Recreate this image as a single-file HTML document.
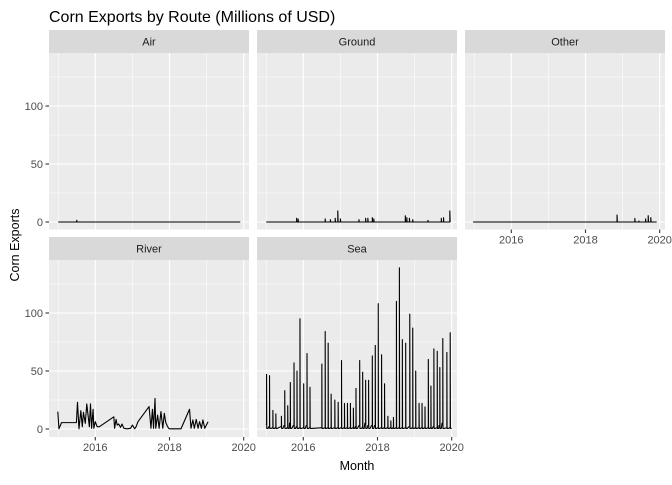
<!DOCTYPE html>
<html><head><meta charset="utf-8"><style>
body{margin:0;background:#fff;}
svg text{font-family:"Liberation Sans",Arial,sans-serif;}
</style></head><body>
<svg id="chart" width="672" height="480" xmlns="http://www.w3.org/2000/svg">
<rect width="672" height="480" fill="#fff"/>
<text x="49" y="22" font-size="16" fill="#000">Corn Exports by Route (Millions of USD)</text>
<text transform="translate(19,245) rotate(-90)" text-anchor="middle" font-size="12.5" fill="#000">Corn Exports</text>
<text x="357" y="470" text-anchor="middle" font-size="12.5" fill="#000">Month</text>
<g id="panels"></g>
</svg>
<script>
// Air
const airDates = [2015.0, 2015.48, 2015.5, 2015.53, 2019.9];
const airValues = [0, 0, 1.5, 0, 0];
// Ground
const groundDates = [2015.0, 2015.82, 2015.86, 2016.59, 2016.73, 2016.86, 2016.93, 2017.0, 2017.5, 2017.68, 2017.74, 2017.86, 2017.9, 2018.75, 2018.79, 2018.86, 2018.95, 2019.36, 2019.72, 2019.78, 2019.95];
const groundValues = [0, 3.2, 2.6, 2.6, 2, 3.2, 9.5, 2.6, 2, 3.2, 3.2, 3.7, 2.6, 5.4, 3.7, 3.2, 2, 1.4, 3.2, 3.7, 9.5];
// Other
const otherDates = [2014.97, 2018.85, 2019.33, 2019.44, 2019.62, 2019.69, 2019.76, 2019.91];
const otherValues = [0, 6, 3.1, 0.8, 2.6, 5.5, 3.7, 0];
// River
const riverDates = [2014.99, 2015.02, 2015.09, 2015.49, 2015.52, 2015.56, 2015.61, 2015.65, 2015.68, 2015.73, 2015.77, 2015.84, 2015.87, 2015.9, 2015.94, 2015.96, 2016.0, 2016.05, 2016.11, 2016.5, 2016.52, 2016.56, 2016.59, 2016.63, 2016.68, 2016.72, 2016.77, 2016.86, 2016.95, 2017.0, 2017.06, 2017.1, 2017.15, 2017.45, 2017.5, 2017.54, 2017.57, 2017.61, 2017.63, 2017.68, 2017.72, 2017.77, 2017.82, 2017.86, 2017.9, 2017.95, 2017.99, 2018.02, 2018.31, 2018.54, 2018.58, 2018.63, 2018.67, 2018.72, 2018.77, 2018.81, 2018.86, 2018.9, 2018.95, 2019.04];
const riverValues = [15, 0.2, 5.5, 5.5, 23, 0.2, 15.8, 2, 14.4, 4.9, 21.6, 2, 21.6, 0.6, 17, 0.6, 6.3, 2, 2, 10.5, 0.6, 8.3, 3.4, 4.3, 1.4, 4.3, 0.6, 0.2, 0.6, 3.4, 0.2, 2, 6.3, 19.3, 0.6, 17, 0.6, 26.4, 0.6, 12, 0.6, 15, 0.6, 13.5, 5.5, 2, 0.2, 0.2, 0.2, 17, 0.6, 7.8, 0.6, 8.3, 0.6, 6.3, 0.6, 7.8, 0.6, 6.3];
// Sea spikes
const seaDates = [2015.01, 2015.09, 2015.18, 2015.26, 2015.41, 2015.5, 2015.58, 2015.65, 2015.75, 2015.83, 2015.91, 2016.01, 2016.1, 2016.18, 2016.5, 2016.59, 2016.67, 2016.75, 2016.85, 2016.94, 2017.03, 2017.11, 2017.19, 2017.27, 2017.35, 2017.42, 2017.52, 2017.6, 2017.68, 2017.76, 2017.86, 2017.94, 2018.02, 2018.11, 2018.19, 2018.28, 2018.36, 2018.43, 2018.51, 2018.59, 2018.67, 2018.76, 2018.87, 2018.95, 2019.03, 2019.12, 2019.2, 2019.28, 2019.37, 2019.44, 2019.52, 2019.61, 2019.68, 2019.76, 2019.87, 2019.96];
const seaValues = [47, 46, 16, 13, 11, 33, 20, 40, 57, 50, 95, 39, 65, 36, 56, 84, 74, 30, 25, 23, 59, 22, 22, 22, 18, 35, 59, 49, 42, 42, 63, 72, 108, 64, 39, 11, 7, 10, 110, 139, 77, 74, 99, 87, 50, 22, 22, 19, 60, 37, 69, 67, 53, 78, 66, 83];
const seaBase = [4, 2, 1, 1, 2, 3, 1, 5, 3, 2, 1, 1, 3, 1, 1, 1, 1, 1, 1, 1, 1, 1, 1, 1, 1, 2, 3, 1, 5, 3, 3, 3, 1, 1, 1, 1, 1, 1, 1, 1, 1, 1, 2, 1, 1, 1, 1, 1, 1, 1, 2, 1, 3, 5, 1, 1];
const xTicks = [2016, 2018, 2020];
const yTicks = [0, 50, 100];

const NS = "http://www.w3.org/2000/svg";
const g = document.getElementById('panels');
const PW = 200, X0 = 2014.752, X1 = 2020.143;
const rowY = [{strip: 30, top: 53, bottom: 229.5, zero: 222}, {strip: 237, top: 260, bottom: 437, zero: 429}];
const colX = [49, 257, 465];
function mk(tag, attrs, parent) {
  const e = document.createElementNS(NS, tag);
  for (const k in attrs) e.setAttribute(k, attrs[k]);
  (parent || g).appendChild(e);
  return e;
}
function sx(c, v) { return colX[c] + (v - X0) / (X1 - X0) * PW; }
function sy(r, v) { return rowY[r].zero - v * 1.16; }

const panels = [
  {name: 'Air', c: 0, r: 0, xaxis: false, yaxis: true},
  {name: 'Ground', c: 1, r: 0, xaxis: false, yaxis: false},
  {name: 'Other', c: 2, r: 0, xaxis: true, yaxis: false},
  {name: 'River', c: 0, r: 1, xaxis: true, yaxis: true},
  {name: 'Sea', c: 1, r: 1, xaxis: true, yaxis: false}
];
const series = {
  Air: [airDates, airValues], Ground: [groundDates, groundValues],
  Other: [otherDates, otherValues], River: [riverDates, riverValues]
};

panels.forEach(p => {
  const R = rowY[p.r], L = colX[p.c];
  const key = p.name.toLowerCase();
  const st = mk('rect', {x: L, y: R.strip, width: PW, height: R.top - R.strip, fill: '#d9d9d9'});
  
  
  const stt = mk('text', {x: L + PW / 2, y: R.strip + 15.5, 'text-anchor': 'middle', 'font-size': '11', fill: '#1a1a1a'});
  stt.textContent = p.name;
  
  
  const bg = mk('rect', {x: L, y: R.top, width: PW, height: R.bottom - R.top, fill: '#ebebeb'});
  
  
  // minor grid
  [2015, 2017, 2019].forEach(v => {
    const l = mk('line', {x1: sx(p.c, v), x2: sx(p.c, v), y1: R.top, y2: R.bottom, stroke: '#fff', 'stroke-width': 0.55});
    
    
  });
  [25, 75, 125].forEach(v => {
    const l = mk('line', {x1: L, x2: L + PW, y1: sy(p.r, v), y2: sy(p.r, v), stroke: '#fff', 'stroke-width': 0.55});
    
    
  });
  xTicks.forEach(v => {
    const l = mk('line', {x1: sx(p.c, v), x2: sx(p.c, v), y1: R.top, y2: R.bottom, stroke: '#fff', 'stroke-width': 1.1});
    
    
    if (p.xaxis) {
      const t = mk('line', {x1: sx(p.c, v), x2: sx(p.c, v), y1: R.bottom, y2: R.bottom + 3.5, stroke: '#333', 'stroke-width': 1.1});
      
      
      const tl = mk('text', {x: sx(p.c, v), y: R.bottom + 14, 'text-anchor': 'middle', 'font-size': '11', fill: '#4d4d4d'});
      tl.textContent = v;
      
      
    }
  });
  yTicks.forEach(v => {
    const l = mk('line', {x1: L, x2: L + PW, y1: sy(p.r, v), y2: sy(p.r, v), stroke: '#fff', 'stroke-width': 1.1});
    
    
    if (p.yaxis) {
      const t = mk('line', {x1: L - 3.5, x2: L, y1: sy(p.r, v), y2: sy(p.r, v), stroke: '#333', 'stroke-width': 1.1});
      
      
      const tl = mk('text', {x: L - 6, y: sy(p.r, v) + 4, 'text-anchor': 'end', 'font-size': '11', fill: '#4d4d4d'});
      tl.textContent = v;
      
      
    }
  });
  let d = '';
  if (p.name === 'Sea') {
    seaDates.forEach((dt, i) => {
      d += (i === 0 ? 'M' : 'L') + sx(p.c, dt - 0.02).toFixed(2) + ',' + sy(p.r, seaBase[i]).toFixed(2);
      d += 'L' + sx(p.c, dt).toFixed(2) + ',' + sy(p.r, seaBase[i]).toFixed(2);
      d += 'L' + sx(p.c, dt).toFixed(2) + ',' + sy(p.r, seaValues[i]).toFixed(2);
      d += 'L' + sx(p.c, dt + 0.005).toFixed(2) + ',' + sy(p.r, 0.5).toFixed(2);
      d += 'L' + sx(p.c, dt + 0.04).toFixed(2) + ',' + sy(p.r, 0.5).toFixed(2);
    });
  } else {
    const [ds, vs] = series[p.name];
    ds.forEach((dt, i) => {
      if (p.name === 'River') {
        d += (i === 0 ? 'M' : 'L') + sx(p.c, dt).toFixed(2) + ',' + sy(p.r, vs[i]).toFixed(2);
      } else {
        if (i === 0) { d += 'M' + sx(p.c, dt).toFixed(2) + ',' + sy(p.r, 0).toFixed(2); }
        d += 'L' + sx(p.c, dt).toFixed(2) + ',' + sy(p.r, 0).toFixed(2);
        d += 'L' + sx(p.c, dt).toFixed(2) + ',' + sy(p.r, vs[i]).toFixed(2);
        d += 'L' + sx(p.c, dt + 0.008).toFixed(2) + ',' + sy(p.r, 0).toFixed(2);
      }
    });
  }
  const path = mk('path', {d: d, fill: 'none', stroke: '#000', 'stroke-width': 1.1, 'stroke-linejoin': 'round'});
  
  
});
</script>
</body></html>
